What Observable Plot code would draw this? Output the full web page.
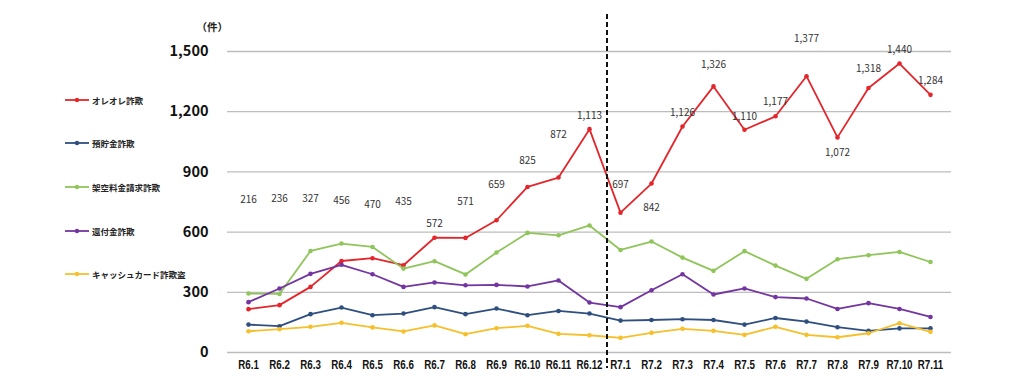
<!DOCTYPE html>
<html>
<head>
<meta charset="utf-8">
<script src="https://cdn.jsdelivr.net/npm/d3@7"></script>
<script src="https://cdn.jsdelivr.net/npm/@observablehq/plot@0.6"></script>
<style>
  html, body { margin: 0; padding: 0; background: #fff; }
  #wrap { position: relative; width: 1024px; height: 386px; overflow: hidden; }
  #legend { position: absolute; left: 65px; top: 92.7px; font-family: "Noto Sans CJK JP", sans-serif; font-size: 8.5px; font-weight: 700; color: #222; }
  #legend .item { display: flex; align-items: center; height: 14px; margin-bottom: 29.7px; white-space: nowrap; }
  #legend svg { display: block; margin-right: 2px; }
  g[aria-label="y-axis tick label"] text { font-family: "Noto Sans CJK JP", sans-serif; font-size: 14.5px; font-weight: 600; fill: #111; }
  g[aria-label="x-axis tick label"] text { font-family: "Liberation Sans", sans-serif; font-size: 12.5px; font-weight: 700; fill: #111; }
  .vlabels text { font-family: "Noto Sans CJK JP", sans-serif; font-size: 10px; fill: #333; }
  .unit text { font-family: "Noto Sans CJK JP", sans-serif; font-size: 10.5px; font-weight: 700; fill: #222; }
</style>
</head>
<body>
<div id="wrap"><div id="legend"></div></div>
<script>
// Months (categories)
const months = ["R6.1","R6.2","R6.3","R6.4","R6.5","R6.6","R6.7","R6.8","R6.9","R6.10","R6.11","R6.12",
                "R7.1","R7.2","R7.3","R7.4","R7.5","R7.6","R7.7","R7.8","R7.9","R7.10","R7.11"];

// Series names
const seriesNames = ["オレオレ詐欺","預貯金詐欺","架空料金請求詐欺","還付金詐欺","キャッシュカード詐欺盗"];
const seriesColors = ["#e3262b","#2f4f7f","#8fc55a","#7335a0","#f5c02b"];

// Values (件)
const oreore   = [216,236,327,456,470,435,572,571,659,825,872,1113,697,842,1126,1326,1110,1177,1377,1072,1318,1440,1284];
const yochokin = [139,131,191,224,186,194,226,191,219,186,207,194,159,162,166,162,139,172,154,126,108,120,120];
const kakuu    = [294,292,506,543,526,418,455,389,498,596,584,633,511,553,473,407,505,433,367,465,485,501,451];
const kanpu    = [251,319,392,437,390,327,349,335,337,329,359,249,226,310,390,289,319,276,269,217,246,217,177];
const cashcard = [106,116,128,148,125,105,135,91,121,133,93,86,73,98,118,108,88,128,88,76,96,146,103];

// Level (件) at which each オレオレ詐欺 data label sits in the original chart
const oreoreLabelLevel = [762,764,764,754,735,749,643,749,837,955,1083,1182,837,722,1196,1436,1176,1251,1563,993,1412,1510,1353];

// Y-axis ticks
const yTicks = [0,300,600,900,1200,1500];
const dividerMonth = "R7.1";
const unitLabel = "（件）";

const allSeries = [oreore, yochokin, kakuu, kanpu, cashcard];
const rows = [];
allSeries.forEach((vals, si) => vals.forEach((v, i) => rows.push({series: seriesNames[si], month: months[i], value: v})));
const labelRows = oreore.map((v, i) => ({month: months[i], value: v, level: oreoreLabelLevel[i]}));

const fmt = d3.format(",");

const chart = Plot.plot({
  width: 1024,
  height: 386,
  marginLeft: 227,
  marginRight: 73,
  marginTop: 51,
  marginBottom: 34,
  style: {background: "#fff", overflow: "visible"},
  x: {type: "point", domain: months, padding: 0.5},
  y: {domain: [0, 1500]},
  color: {domain: seriesNames, range: seriesColors},
  marks: [
    Plot.gridY(yTicks, {stroke: "#bdbdbd", strokeOpacity: 1, strokeWidth: 1.3}),
    Plot.axisY({ticks: yTicks, tickSize: 0, tickPadding: 19, tickFormat: d => fmt(d), label: null}),
    Plot.axisX({tickSize: 0, tickPadding: 8, label: null}),
    Plot.line(rows, {x: "month", y: "value", z: "series", stroke: "series", strokeWidth: 1.8}),
    Plot.dot(rows, {x: "month", y: "value", fill: "series", r: 2.3}),
    Plot.ruleX([dividerMonth], {dx: -13.5, stroke: "#111", strokeWidth: 2, strokeDasharray: "5,3", insetTop: -37, insetBottom: -16}),
    Plot.text(labelRows, {x: "month", y: "level", text: d => fmt(d.value), className: "vlabels"}),
    Plot.text([unitLabel], {frameAnchor: "top-left", dx: -31, dy: -28, text: d => d, className: "unit"})
  ]
});

const wrap = document.getElementById("wrap");
wrap.insertBefore(chart, wrap.firstChild);

// Condense the month labels like the original's narrow bold face
chart.querySelectorAll('g[aria-label="x-axis tick label"] text').forEach(t => {
  const len = t.getComputedTextLength();
  if (len > 0) {
    t.setAttribute("textLength", (len * 0.78).toFixed(1));
    t.setAttribute("lengthAdjust", "spacingAndGlyphs");
  }
});

// Legend
const legend = document.getElementById("legend");
seriesNames.forEach((name, i) => {
  const item = document.createElement("div");
  item.className = "item";
  const ns = "http://www.w3.org/2000/svg";
  const svg = document.createElementNS(ns, "svg");
  svg.setAttribute("width", "25");
  svg.setAttribute("height", "8");
  const line = document.createElementNS(ns, "line");
  line.setAttribute("x1", "0"); line.setAttribute("x2", "24");
  line.setAttribute("y1", "4"); line.setAttribute("y2", "4");
  line.setAttribute("stroke", seriesColors[i]); line.setAttribute("stroke-width", "1.8");
  const c = document.createElementNS(ns, "circle");
  c.setAttribute("cx", "12"); c.setAttribute("cy", "4"); c.setAttribute("r", "2.2");
  c.setAttribute("fill", seriesColors[i]);
  svg.appendChild(line); svg.appendChild(c);
  const span = document.createElement("span");
  span.textContent = name;
  item.appendChild(svg); item.appendChild(span);
  legend.appendChild(item);
});
</script>
</body>
</html>
